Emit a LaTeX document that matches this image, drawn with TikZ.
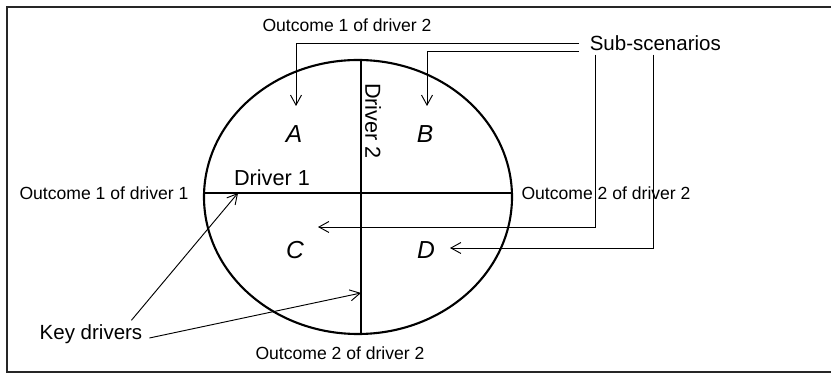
\documentclass[tikz,border=0pt]{standalone}
\usepackage{fontspec}
\setmainfont{Liberation Sans}
\usepackage{tikz}
\usetikzlibrary{arrows.meta,calc}

\begin{document}
\begin{tikzpicture}[x=0.03cm, y=-0.03cm,
	every node/.style={font=\fontsize{15}{18}\selectfont},
	midlbl/.style={font=\fontsize{17.5}{20}\selectfont},
	drvlbl/.style={font=\fontsize{18.5}{21}\selectfont},
	quad/.style={font=\fontsize{21}{24}\selectfont\itshape},
	heavy/.style={line width=1.8pt},
	pointer/.style={line width=0.8pt, -{Straight Barb[length=3mm,width=3.3mm]}},
	linkline/.style={line width=0.8pt}]
	\useasboundingbox (0,0) rectangle (831,374);
	\draw[line width=1.5pt, black!85] (7,7) rectangle (832,372);
	% ellipse with the two drivers
	\draw[heavy] (358,197) ellipse (154 and 137);
	\draw[heavy] (204,193) -- (512,193);
	\draw[heavy] (361,60) -- (361,334);
	\node[drvlbl] (drv1) at (272,178) {Driver 1};
	\node[drvlbl, rotate=-90] (drv2) at (373,121) {Driver 2};
	% sub-scenarios
	\node[quad] (qa) at (294,134) {A};
	\node[quad] (qb) at (425,134) {B};
	\node[quad] (qc) at (295,250) {C};
	\node[quad] (qd) at (426,250) {D};
	% outcomes
	\node (out12) at (347,25) {Outcome 1 of driver 2};
	\node (out11) at (104,193) {Outcome 1 of driver 1};
	\node (out22r) at (606,193) {Outcome 2 of driver 2};
	\node (out22b) at (340,353) {Outcome 2 of driver 2};
	% callouts
	\node[midlbl, anchor=west, inner xsep=9pt] (subs) at (579,43) {Sub-scenarios};
	\node[midlbl] (keyd) at (91,334) {Key drivers};
	\coordinate (tipa) at (296,106);
	\coordinate (tipb) at (427,106);
	\coordinate (tipc) at (318,227);
	\coordinate (tipd) at (450,248);
	\coordinate (kd1) at (238,193);
	\coordinate (kd2) at (361,293);
	\draw[pointer] (subs.west) -| (tipa);
	\draw[pointer] ($(subs.west)+(0,8)$) -| (tipb);
	\draw[pointer] ($(subs.south west)+(16,0)$) |- (tipc);
	\draw[pointer] ($(subs.south west)+(74,0)$) |- (tipd);
	\draw[pointer] ($(keyd.north east)+(-15,0)$) -- (kd1);
	\draw[pointer] ($(keyd.east)+(3,4)$) -- (kd2);
\end{tikzpicture}
\end{document}
